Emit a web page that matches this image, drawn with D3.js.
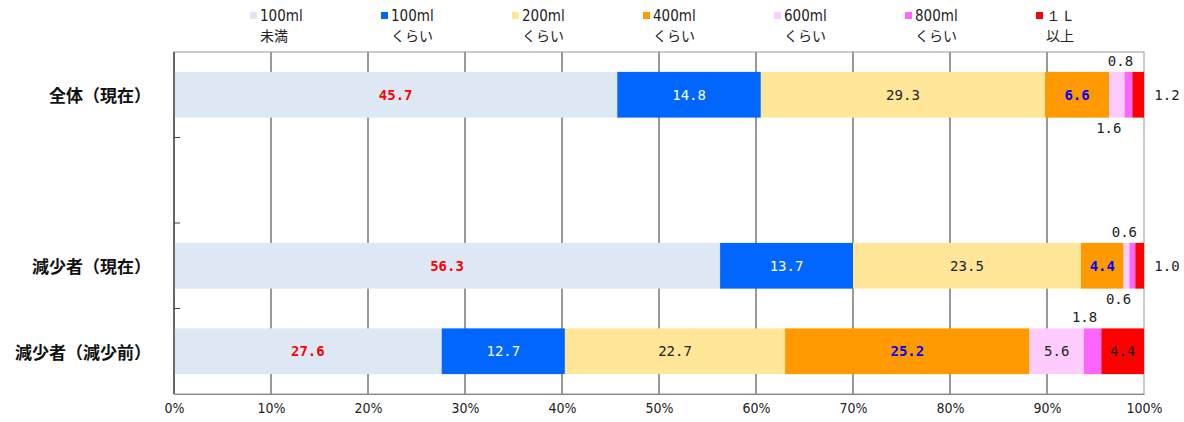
<!DOCTYPE html>
<html>
<head>
<meta charset="utf-8">
<script src="https://cdn.jsdelivr.net/npm/d3@7"></script>
<style>
  body { margin: 0; background: #fff; }
  svg { display: block; }
  .cat { font-family: "Noto Sans CJK JP", sans-serif; font-weight: bold; font-size: 17px; fill: #111; }
  .val { font-family: "DejaVu Sans Mono", monospace; font-size: 14px; }
  .leg1 { font-family: "Liberation Sans Narrow", "DejaVu Sans Condensed", sans-serif; font-size: 15px; fill: #222; }
  .leg2 { font-family: "Noto Sans CJK JP", sans-serif; font-size: 14px; fill: #222; }
  .tick text { font-family: "Liberation Sans Narrow", "DejaVu Sans Condensed", sans-serif; font-size: 14px; fill: #222; }
</style>
</head>
<body>
<script>
// data
var categories = ["全体（現在）", "", "減少者（現在）", "減少者（減少前）"];
var seriesNames = ["100ml", "100ml", "200ml", "400ml", "600ml", "800ml", "１Ｌ"];
var seriesSub = ["未満", "くらい", "くらい", "くらい", "くらい", "くらい", "以上"];
var colors = ["#dde8f4", "#0066ff", "#ffe699", "#ff9900", "#ffccff", "#ff66ff", "#ff0000"];
var values = [
  [45.7, 14.8, 29.3, 6.6, 1.6, 0.8, 1.2],
  null,
  [56.3, 13.7, 23.5, 4.4, 0.6, 0.6, 1.0],
  [27.6, 12.7, 22.7, 25.2, 5.6, 1.8, 4.4]
];
// where the small labels go: in / below / above / right
var labelPos = [
  ["in", "in", "in", "in", "below", "above", "right"],
  null,
  ["in", "in", "in", "in", "below", "above", "right"],
  ["in", "in", "in", "in", "in", "above", "in"]
];
var labelColor = ["#ff0000", "#ffffff", "#222", "#0000ff", "#222", "#222", "#222"];
var labelBold = [true, false, false, true, false, false, false];
var xTicks = [0, 10, 20, 30, 40, 50, 60, 70, 80, 90, 100];

var w = 1184, h = 422;
var margin = {left: 174, right: 40, top: 52, bottom: 28};

var svg = d3.select("body").append("svg").attr("width", w).attr("height", h);

var x = d3.scaleLinear().domain([0, 100]).range([margin.left, w - margin.right]);
var y = d3.scaleBand().domain(categories).range([margin.top, h - margin.bottom]);
var barH = y.bandwidth() * 0.535;

// gridlines
svg.selectAll("line.grid")
  .data(xTicks.slice(1, -1))
  .enter().append("line")
  .attr("x1", function(d){ return x(d); })
  .attr("x2", function(d){ return x(d); })
  .attr("y1", margin.top).attr("y2", h - margin.bottom)
  .attr("stroke", "#333").attr("stroke-width", 1);

// frame
svg.append("rect")
  .attr("x", x(0)).attr("y", margin.top)
  .attr("width", x(100) - x(0)).attr("height", h - margin.bottom - margin.top)
  .attr("fill", "none").attr("stroke", "#999");

// stacked bars
var rows = [];
values.forEach(function(v, i){
  if (!v) return;
  var acc = 0;
  v.forEach(function(val, j){
    rows.push({cat: categories[i], row: i, s: j, x0: acc, x1: acc + val, v: val});
    acc += val;
  });
});

svg.selectAll("rect.seg")
  .data(rows)
  .enter().append("rect")
  .attr("class", "seg")
  .attr("x", function(d){ return x(d.x0); })
  .attr("width", function(d){ return Math.max(0, x(Math.min(d.x1, 100)) - x(d.x0)); })
  .attr("y", function(d){ return y(d.cat) + (y.bandwidth() - barH) / 2; })
  .attr("height", barH)
  .attr("fill", function(d){ return colors[d.s]; });

// value labels
svg.selectAll("text.val")
  .data(rows)
  .enter().append("text")
  .attr("class", "val")
  .attr("text-anchor", "middle")
  .attr("dominant-baseline", "central")
  .attr("font-weight", function(d){ return labelBold[d.s] ? "bold" : "normal"; })
  .attr("fill", function(d){ return labelPos[d.row][d.s] == "in" ? labelColor[d.s] : "#222"; })
  .attr("x", function(d){
    var p = labelPos[d.row][d.s];
    if (p == "right") return x(100) + 23;
    var c = x((d.x0 + d.x1) / 2);
    return p == "in" ? c : c - 8;
  })
  .attr("y", function(d){
    var p = labelPos[d.row][d.s];
    var c = y(d.cat) + y.bandwidth() / 2;
    if (p == "above") return c - barH / 2 - 11;
    if (p == "below") return c + barH / 2 + 10;
    return c;
  })
  .text(function(d){ return d.v.toFixed(1); });

// y axis with inward ticks between bands
svg.selectAll("line.yt")
  .data(categories.slice(1))
  .enter().append("line")
  .attr("x1", x(0)).attr("x2", x(0) + 6)
  .attr("y1", function(d){ return y(d); })
  .attr("y2", function(d){ return y(d); })
  .attr("stroke", "#444");
svg.append("line")
  .attr("x1", x(0)).attr("x2", x(0))
  .attr("y1", margin.top).attr("y2", h - margin.bottom)
  .attr("stroke", "#444").attr("stroke-width", 1.5);

// category labels
svg.selectAll("text.cat")
  .data(categories.filter(function(c){ return c; }))
  .enter().append("text")
  .attr("class", "cat")
  .attr("text-anchor", "end")
  .attr("dominant-baseline", "central")
  .attr("x", 151)
  .attr("y", function(d){ return y(d) + y.bandwidth() / 2; })
  .text(function(d){ return d; });

// x axis
var xAxis = d3.axisBottom(x).tickValues(xTicks).tickSize(0).tickPadding(9)
  .tickFormat(function(d){ return d + "%"; });
var xa = svg.append("g")
  .attr("transform", "translate(0," + (h - margin.bottom) + ")")
  .call(xAxis);
xa.select(".domain").attr("stroke", "#888");

// legend
var leg = svg.selectAll("g.leg")
  .data(seriesNames)
  .enter().append("g")
  .attr("transform", function(d, i){ return "translate(" + (250 + i * 131) + ",0)"; });
leg.append("rect")
  .attr("x", 0).attr("y", 12).attr("width", 7).attr("height", 7)
  .attr("fill", function(d, i){ return colors[i]; });
leg.append("text")
  .attr("class", "leg1")
  .attr("x", 10).attr("y", 21)
  .text(function(d){ return d; });
leg.append("text")
  .attr("class", "leg2")
  .attr("x", 10).attr("y", 41)
  .text(function(d, i){ return seriesSub[i]; });
</script>
</body>
</html>
